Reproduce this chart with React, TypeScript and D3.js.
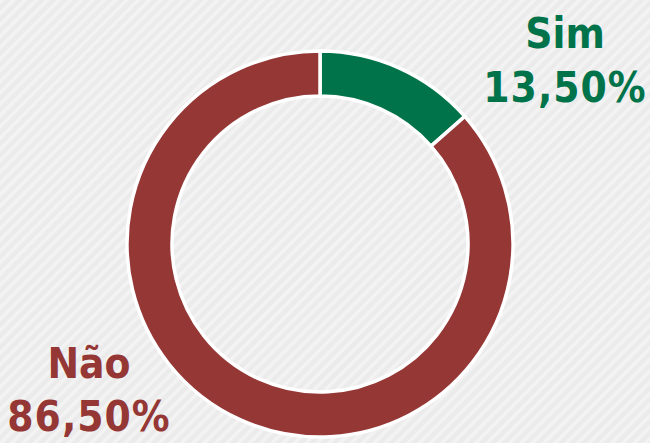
import React from "react";
import * as d3 from "d3";

const categories = ["Sim", "Não"];
const values = [13.5, 86.5];
const valueLabels = ["13,50%", "86,50%"];
const colors = ["#00734a", "#943735"];

const W = 650;
const H = 443;

export default function App() {
  const cx = 320;
  const cy = 244;
  const outerR = 193;
  const innerR = 148;
  const pie = d3.pie<number>().sort(null).value((d) => d)(values);
  const arc = d3.arc<d3.PieArcDatum<number>>().innerRadius(innerR).outerRadius(outerR);

  const labelPos = [
    { x: 565, y1: 48, y2: 102 },
    { x: 89, y1: 378, y2: 431 },
  ];

  return (
    <svg
      width={W}
      height={H}
      style={{ position: "absolute", left: 0, top: 0, display: "block" }}
    >
      <defs>
        <pattern
          id="stripes"
          patternUnits="userSpaceOnUse"
          width={8}
          height={8}
          patternTransform="rotate(45)"
        >
          <rect width={8} height={8} fill="#ebebeb" />
          <rect width={3.5} height={8} fill="#f3f3f3" />
        </pattern>
      </defs>
      <rect width={W} height={H} fill="url(#stripes)" />
      <g transform={`translate(${cx},${cy})`}>
        {pie.map((p, i) => (
          <path
            key={categories[i]}
            d={arc(p) || ""}
            fill={colors[i]}
            stroke="#ffffff"
            strokeWidth={3.5}
            strokeLinejoin="miter"
          />
        ))}
      </g>
      {categories.map((c, i) => (
        <g
          key={c}
          fill={colors[i]}
          fontFamily="'DejaVu Sans', Verdana, sans-serif"
          fontWeight="bold"
          fontSize={42}
          textAnchor="middle"
          style={{ fontStretch: "condensed" }}
        >
          <text x={labelPos[i].x} y={labelPos[i].y1}>{c}</text>
          <text x={labelPos[i].x} y={labelPos[i].y2} letterSpacing={1}>
            {valueLabels[i]}
          </text>
        </g>
      ))}
    </svg>
  );
}
